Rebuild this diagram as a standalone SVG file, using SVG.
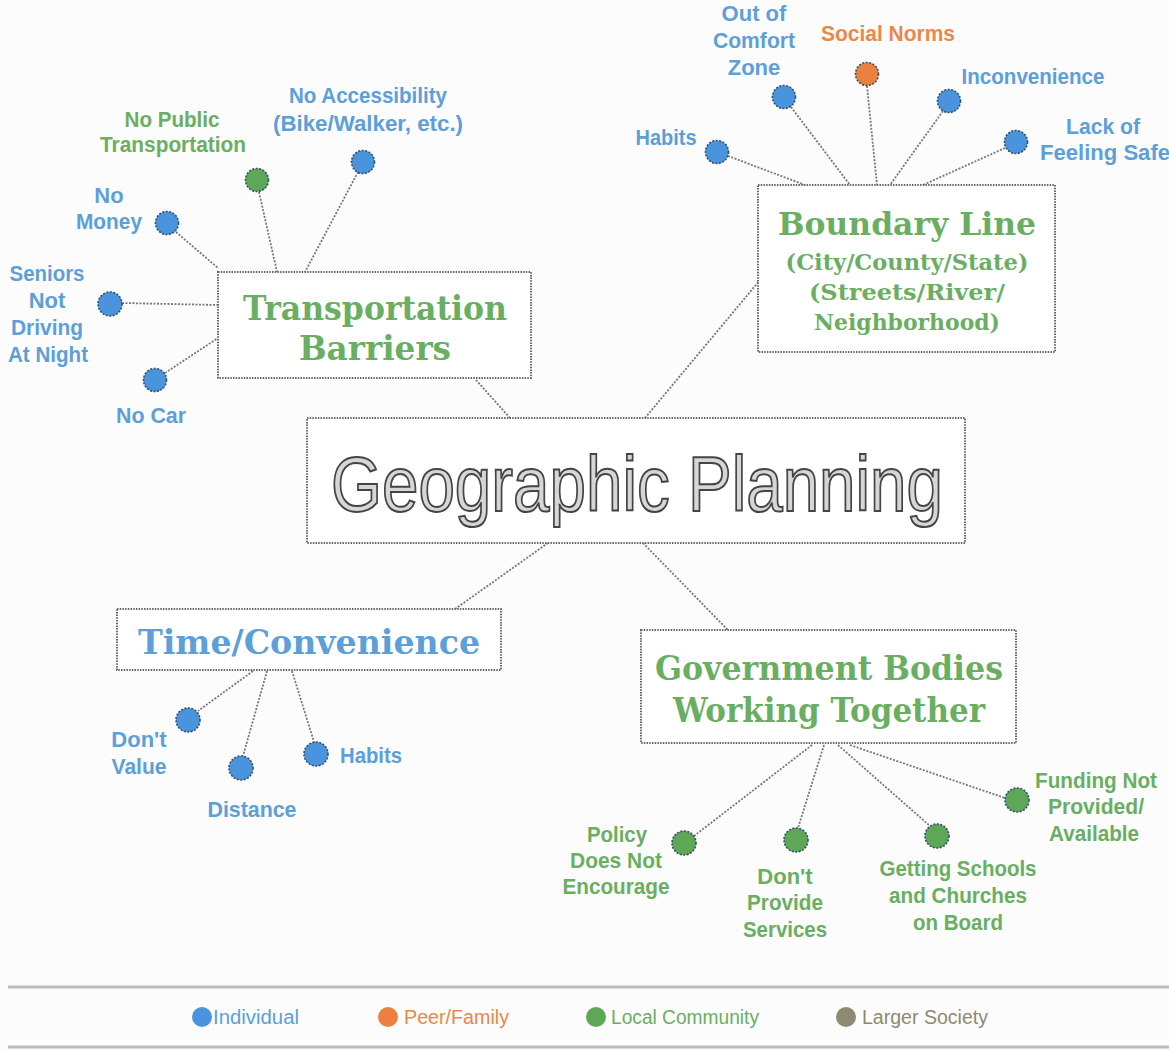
<svg xmlns="http://www.w3.org/2000/svg" width="1169" height="1050" viewBox="0 0 1169 1050">
  <style>
    .box { fill: #ffffff; stroke: #666; stroke-width: 2; stroke-dasharray: 1.5 1.2; }
    .link { stroke: #777; stroke-width: 1.8; stroke-dasharray: 2 1.5; fill: none; }
    .dot { stroke: #2f4f6f; stroke-width: 1.6; stroke-dasharray: 2 1.5; }
    .ind { fill: #4a94de; }
    .peer { fill: #ec8040; }
    .loc { fill: #5ea757; }
    .soc { fill: #8c8a70; }
    .slab { font-family: "DejaVu Serif", "Liberation Serif", serif; font-weight: bold; text-anchor: middle; }
    .lbl { font-family: "Liberation Sans", Arial, sans-serif; font-weight: bold; font-size: 22px; text-anchor: middle; }
    .lbs { font-family: "Liberation Sans", Arial, sans-serif; font-weight: bold; font-size: 22px; text-anchor: start; }
    .leg { font-family: "Liberation Sans", Arial, sans-serif; font-size: 20px; text-anchor: start; }
    .tb { fill: #5d9fd8; }
    .tg { fill: #6aae62; }
    .to { fill: #e8884a; }
    .tgr { fill: #8c8a70; }
  </style>
  <rect width="1169" height="1050" fill="#fcfcfc"/>

  <!-- connectors -->
  <g id="connectors">
    <!-- central links -->
    <line class="link" x1="476" y1="380" x2="510" y2="418"/>
    <line class="link" x1="645" y1="418" x2="760" y2="280"/>
    <line class="link" x1="548" y1="543" x2="455" y2="609"/>
    <line class="link" x1="643" y1="543" x2="728" y2="630"/>
    <!-- transportation -->
    <line class="link" x1="358" y1="172" x2="305" y2="272"/>
    <line class="link" x1="259" y1="192" x2="277" y2="272"/>
    <line class="link" x1="176" y1="232" x2="218" y2="268"/>
    <line class="link" x1="122" y1="303" x2="218" y2="305"/>
    <line class="link" x1="165" y1="373" x2="218" y2="338"/>
    <!-- boundary -->
    <line class="link" x1="728" y1="156" x2="805" y2="185"/>
    <line class="link" x1="791" y1="107" x2="850" y2="185"/>
    <line class="link" x1="867" y1="86" x2="877" y2="185"/>
    <line class="link" x1="943" y1="111" x2="890" y2="185"/>
    <line class="link" x1="1005" y1="148" x2="923" y2="185"/>
    <!-- time -->
    <line class="link" x1="253" y1="671" x2="198" y2="711"/>
    <line class="link" x1="267" y1="671" x2="243" y2="756"/>
    <line class="link" x1="292" y1="671" x2="314" y2="742"/>
    <!-- government -->
    <line class="link" x1="812" y1="745" x2="694" y2="836"/>
    <line class="link" x1="824" y1="745" x2="798" y2="828"/>
    <line class="link" x1="838" y1="745" x2="930" y2="826"/>
    <line class="link" x1="850" y1="745" x2="1005" y2="798"/>
  </g>

  <!-- central node -->
  <g id="geographic-planning">
    <rect class="box" x="307" y="418" width="658" height="125"/>
    <text x="637" y="511" font-family="Liberation Sans, Arial, sans-serif" font-size="78" text-anchor="middle" fill="#d6d6d6" stroke="#444" stroke-width="2" textLength="612" lengthAdjust="spacingAndGlyphs">Geographic Planning</text>
  </g>

  <!-- transportation barriers -->
  <g id="transportation-barriers">
    <rect class="box" x="218" y="272" width="313" height="106"/>
    <text class="slab tg" x="375" y="320" font-size="34" textLength="264" lengthAdjust="spacingAndGlyphs">Transportation</text>
    <text class="slab tg" x="375" y="360" font-size="34" textLength="152" lengthAdjust="spacingAndGlyphs">Barriers</text>
  </g>
  <g id="no-accessibility">
    <circle class="dot ind" cx="363" cy="162" r="11.5"/>
    <text class="lbl tb" x="368" y="103" textLength="158" lengthAdjust="spacingAndGlyphs">No Accessibility</text>
    <text class="lbl tb" x="368" y="131" textLength="190" lengthAdjust="spacingAndGlyphs">(Bike/Walker, etc.)</text>
  </g>
  <g id="no-public-transportation">
    <circle class="dot loc" cx="257" cy="180" r="11.5"/>
    <text class="lbl tg" x="172" y="127" textLength="95" lengthAdjust="spacingAndGlyphs">No Public</text>
    <text class="lbl tg" x="173" y="152" font-size="20" textLength="146" lengthAdjust="spacingAndGlyphs">Transportation</text>
  </g>
  <g id="no-money">
    <circle class="dot ind" cx="167" cy="223" r="11.5"/>
    <text class="lbl tb" x="109" y="203">No</text>
    <text class="lbl tb" x="109" y="229" textLength="66" lengthAdjust="spacingAndGlyphs">Money</text>
  </g>
  <g id="seniors-not-driving">
    <circle class="dot ind" cx="110" cy="304" r="12"/>
    <text class="lbl tb" x="47" y="281" textLength="75" lengthAdjust="spacingAndGlyphs">Seniors</text>
    <text class="lbl tb" x="47" y="308">Not</text>
    <text class="lbl tb" x="47" y="335" textLength="72" lengthAdjust="spacingAndGlyphs">Driving</text>
    <text class="lbl tb" x="48" y="362" textLength="80" lengthAdjust="spacingAndGlyphs">At Night</text>
  </g>
  <g id="no-car">
    <circle class="dot ind" cx="155" cy="380" r="11.5"/>
    <text class="lbl tb" x="151" y="423" textLength="70" lengthAdjust="spacingAndGlyphs">No Car</text>
  </g>

  <!-- boundary line -->
  <g id="boundary-line">
    <rect class="box" x="758" y="185" width="297" height="167"/>
    <text class="slab tg" x="907" y="235" font-size="32" textLength="258" lengthAdjust="spacingAndGlyphs">Boundary Line</text>
    <text class="slab tg" x="907" y="270" font-size="23" textLength="243" lengthAdjust="spacingAndGlyphs">(City/County/State)</text>
    <text class="slab tg" x="907" y="300" font-size="23" textLength="196" lengthAdjust="spacingAndGlyphs">(Streets/River/</text>
    <text class="slab tg" x="907" y="330" font-size="23" textLength="186" lengthAdjust="spacingAndGlyphs">Neighborhood)</text>
  </g>
  <g id="habits-boundary">
    <circle class="dot ind" cx="717" cy="152" r="11.5"/>
    <text class="lbl tb" x="666" y="145" textLength="61" lengthAdjust="spacingAndGlyphs">Habits</text>
  </g>
  <g id="out-of-comfort-zone">
    <circle class="dot ind" cx="784" cy="97" r="11.5"/>
    <text class="lbl tb" x="754" y="21">Out of</text>
    <text class="lbl tb" x="754" y="48" textLength="82" lengthAdjust="spacingAndGlyphs">Comfort</text>
    <text class="lbl tb" x="754" y="75">Zone</text>
  </g>
  <g id="social-norms">
    <circle class="dot peer" cx="867" cy="74" r="11.5"/>
    <text class="lbl to" x="888" y="41" textLength="134" lengthAdjust="spacingAndGlyphs">Social Norms</text>
  </g>
  <g id="inconvenience">
    <circle class="dot ind" cx="949" cy="101" r="11.5"/>
    <text class="lbl tb" x="1033" y="84" textLength="143" lengthAdjust="spacingAndGlyphs">Inconvenience</text>
  </g>
  <g id="lack-of-feeling-safe">
    <circle class="dot ind" cx="1016" cy="142" r="11.5"/>
    <text class="lbl tb" x="1103" y="134" textLength="74" lengthAdjust="spacingAndGlyphs">Lack of</text>
    <text class="lbs tb" x="1040" y="160" textLength="130" lengthAdjust="spacingAndGlyphs">Feeling Safe</text>
  </g>

  <!-- time / convenience -->
  <g id="time-convenience">
    <rect class="box" x="117" y="609" width="384" height="61"/>
    <text class="slab tb" x="309" y="654" font-size="33" textLength="342" lengthAdjust="spacingAndGlyphs">Time/Convenience</text>
  </g>
  <g id="dont-value">
    <circle class="dot ind" cx="188" cy="720" r="12"/>
    <text class="lbl tb" x="139" y="747">Don't</text>
    <text class="lbl tb" x="139" y="774" textLength="55" lengthAdjust="spacingAndGlyphs">Value</text>
  </g>
  <g id="distance">
    <circle class="dot ind" cx="241" cy="768" r="12"/>
    <text class="lbl tb" x="252" y="817" textLength="89" lengthAdjust="spacingAndGlyphs">Distance</text>
  </g>
  <g id="habits-time">
    <circle class="dot ind" cx="316" cy="754" r="12"/>
    <text class="lbl tb" x="371" y="763" textLength="62" lengthAdjust="spacingAndGlyphs">Habits</text>
  </g>

  <!-- government bodies -->
  <g id="government-bodies">
    <rect class="box" x="641" y="630" width="375" height="113"/>
    <text class="slab tg" x="829" y="680" font-size="34" textLength="348" lengthAdjust="spacingAndGlyphs">Government Bodies</text>
    <text class="slab tg" x="829" y="722" font-size="34" textLength="312" lengthAdjust="spacingAndGlyphs">Working Together</text>
  </g>
  <g id="policy-does-not-encourage">
    <circle class="dot loc" cx="684" cy="843" r="12"/>
    <text class="lbl tg" x="617" y="842" textLength="60" lengthAdjust="spacingAndGlyphs">Policy</text>
    <text class="lbl tg" x="616" y="868" textLength="92" lengthAdjust="spacingAndGlyphs">Does Not</text>
    <text class="lbl tg" x="616" y="894" textLength="107" lengthAdjust="spacingAndGlyphs">Encourage</text>
  </g>
  <g id="dont-provide-services">
    <circle class="dot loc" cx="796" cy="840" r="12"/>
    <text class="lbl tg" x="785" y="884">Don't</text>
    <text class="lbl tg" x="785" y="910" textLength="76" lengthAdjust="spacingAndGlyphs">Provide</text>
    <text class="lbl tg" x="785" y="937" textLength="84" lengthAdjust="spacingAndGlyphs">Services</text>
  </g>
  <g id="getting-schools">
    <circle class="dot loc" cx="937" cy="836" r="12"/>
    <text class="lbl tg" x="958" y="876" textLength="157" lengthAdjust="spacingAndGlyphs">Getting Schools</text>
    <text class="lbl tg" x="958" y="903" textLength="138" lengthAdjust="spacingAndGlyphs">and Churches</text>
    <text class="lbl tg" x="958" y="930" textLength="90" lengthAdjust="spacingAndGlyphs">on Board</text>
  </g>
  <g id="funding-not-provided">
    <circle class="dot loc" cx="1017" cy="800" r="12"/>
    <text class="lbl tg" x="1096" y="788" textLength="122" lengthAdjust="spacingAndGlyphs">Funding Not</text>
    <text class="lbl tg" x="1096" y="814" textLength="96" lengthAdjust="spacingAndGlyphs">Provided/</text>
    <text class="lbl tg" x="1094" y="841" textLength="90" lengthAdjust="spacingAndGlyphs">Available</text>
  </g>

  <!-- legend -->
  <g id="legend">
    <line x1="8" y1="987" x2="1169" y2="987" stroke="#bbb" stroke-width="3"/>
    <line x1="8" y1="1047" x2="1169" y2="1047" stroke="#bbb" stroke-width="3"/>
    <circle class="ind" cx="202" cy="1017" r="10"/>
    <text class="leg tb" x="213" y="1024" textLength="86" lengthAdjust="spacingAndGlyphs">Individual</text>
    <circle class="peer" cx="388" cy="1017" r="10"/>
    <text class="leg to" x="404" y="1024" textLength="105" lengthAdjust="spacingAndGlyphs">Peer/Family</text>
    <circle class="loc" cx="596" cy="1017" r="10"/>
    <text class="leg tg" x="611" y="1024" textLength="148" lengthAdjust="spacingAndGlyphs">Local Community</text>
    <circle class="soc" cx="846" cy="1017" r="10"/>
    <text class="leg tgr" x="862" y="1024" textLength="126" lengthAdjust="spacingAndGlyphs">Larger Society</text>
  </g>
</svg>
